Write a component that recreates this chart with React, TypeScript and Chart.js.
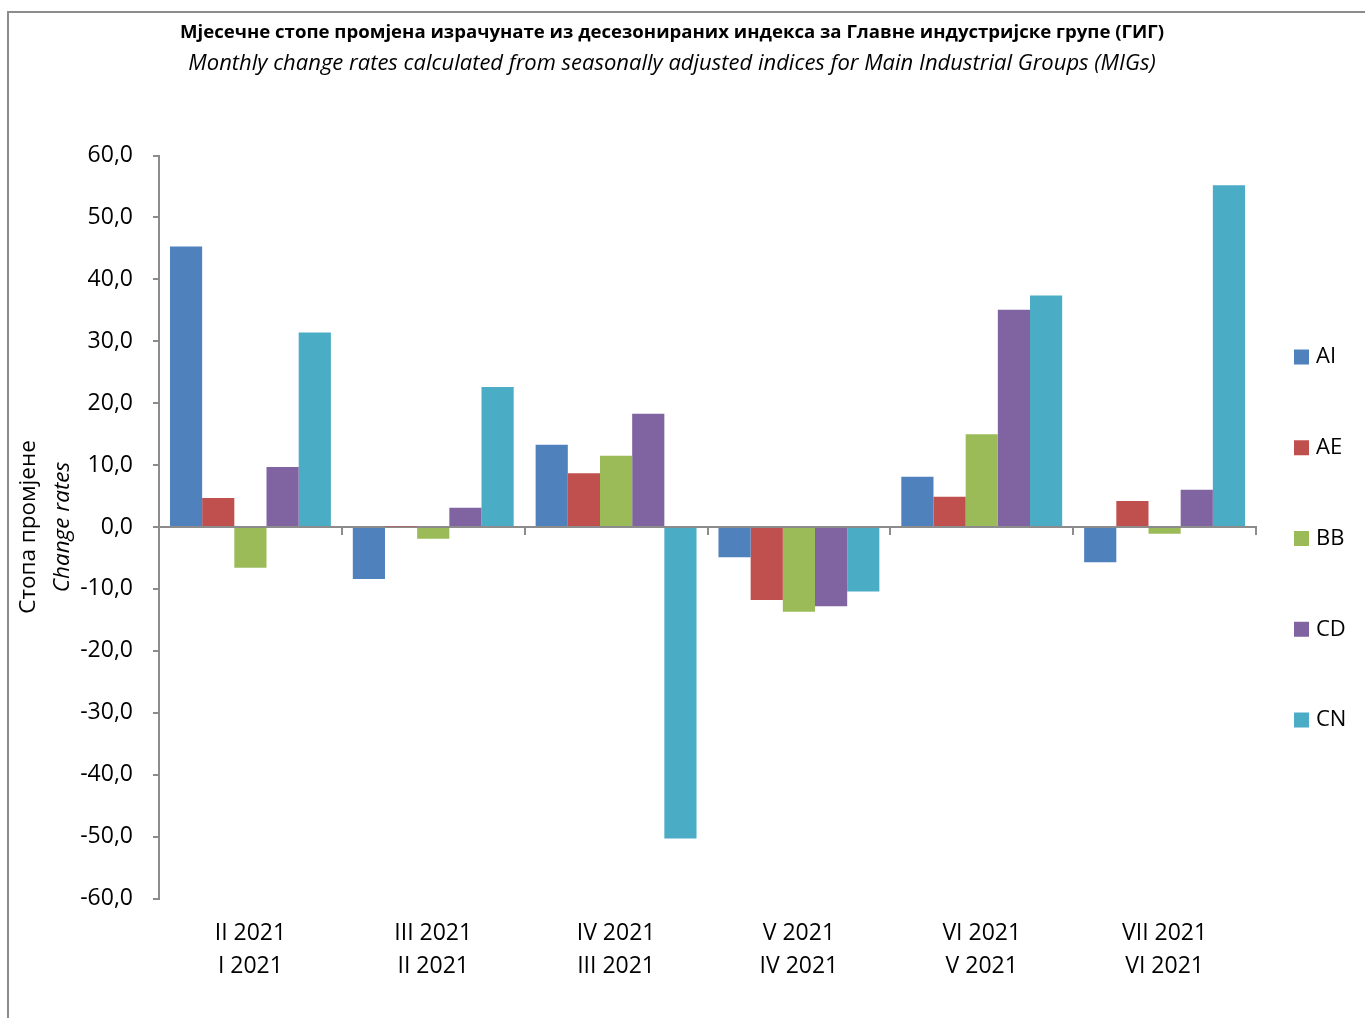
import { useEffect, useRef } from "react";
import { Chart, registerables } from "chart.js";

Chart.register(...registerables);

const categories: string[][] = [
  ["II 2021", "I 2021"],
  ["III 2021", "II 2021"],
  ["IV 2021", "III 2021"],
  ["V 2021", "IV 2021"],
  ["VI 2021", "V 2021"],
  ["VII 2021", "VI 2021"],
];
const seriesNames = ["AI", "AE", "BB", "CD", "CN"];
const seriesColors = ["#4F81BD", "#C0504D", "#9BBB59", "#8064A2", "#4BACC6"];
const aiValues = [45.3, -8.4, 13.3, -4.9, 8.1, -5.7];
const aeValues = [4.7, 0.1, 8.7, -11.8, 4.9, 4.2];
const bbValues = [-6.6, -1.9, 11.5, -13.7, 15.0, -1.1];
const cdValues = [9.7, 3.1, 18.3, -12.8, 35.1, 6.0];
const cnValues = [31.4, 22.6, -50.3, -10.4, 37.4, 55.2];
const yMin = -60;
const yMax = 60;
const yStep = 10;
const titleText =
  "Мјесечне стопе промјена израчунате из десезонираних индекса за Главне индустријске групе (ГИГ)";
const subtitleText =
  "Monthly change rates calculated from seasonally adjusted indices for Main Industrial Groups (MIGs)";
const yTitleLines = ["Стопа промјене", "Change rates"];

const GRAY = "#8c8c8c";
const FONT = "'Open Sans'";

const sideLegend = {
  id: "sideLegend",
  afterDraw(chart: any) {
    const { ctx, chartArea } = chart;
    const cy = (chartArea.top + chartArea.bottom) / 2 + 11.5;
    const n = chart.data.datasets.length;
    ctx.save();
    chart.data.datasets.forEach((ds: any, i: number) => {
      const y = cy + (i - (n - 1) / 2) * 90.75;
      ctx.fillStyle = ds.backgroundColor;
      ctx.fillRect(chartArea.right + 38, y - 7.5, 15, 15);
      ctx.fillStyle = "#000";
      ctx.font = `22px ${FONT}`;
      ctx.textAlign = "left";
      ctx.textBaseline = "middle";
      ctx.fillText(ds.label, chartArea.right + 60, y);
    });
    ctx.restore();
  },
};

const yTitle = {
  id: "yTitle",
  afterDraw(chart: any) {
    const { ctx, chartArea } = chart;
    const cy = (chartArea.top + chartArea.bottom) / 2;
    const xs = [28.5, 62.5];
    const styles = ["", "italic "];
    ctx.save();
    yTitleLines.forEach((t, i) => {
      ctx.save();
      ctx.translate(xs[i], cy);
      ctx.rotate(-Math.PI / 2);
      ctx.fillStyle = "#000";
      ctx.font = `${styles[i]}22.5px ${FONT}`;
      ctx.textAlign = "center";
      ctx.textBaseline = "middle";
      ctx.fillText(t, 0, 0);
      ctx.restore();
    });
    ctx.restore();
  },
};

// centre the title block over x = 672 (as in the reference)
const titleCentre = {
  id: "titleCentre",
  afterLayout(chart: any) {
    chart.boxes.forEach((b: any) => {
      if (b.position === "top" && b.fullSize) {
        b.left = 0;
        b.right = 1344;
        b.width = 1344;
      }
    });
  },
};

export default function App() {
  const ref = useRef<HTMLCanvasElement>(null);
  useEffect(() => {
    Chart.defaults.font.family = FONT;
    const valuesList = [aiValues, aeValues, bbValues, cdValues, cnValues];
    const chart = new Chart(ref.current!, {
      type: "bar",
      data: {
        labels: categories,
        datasets: seriesNames.map((name, i) => ({
          label: name,
          data: valuesList[i],
          backgroundColor: seriesColors[i],
          borderWidth: 0,
          barPercentage: 1,
          categoryPercentage: 0.88,
        })),
      },
      options: {
        animation: false,
        responsive: false,
        devicePixelRatio: 1,
        layout: { padding: { left: 0, right: 109, top: 0, bottom: 16.5 } },
        plugins: {
          legend: { display: false },
          tooltip: { enabled: false },
          title: {
            display: true,
            text: titleText,
            color: "#000",
            font: { family: FONT, size: 18.6, weight: "bold", lineHeight: 1.2 },
            padding: { top: 21.8, bottom: 0 },
          },
          subtitle: {
            display: true,
            text: subtitleText,
            color: "#000",
            font: { family: FONT, size: 22, style: "italic", lineHeight: 1.2 },
            padding: { top: 6.6, bottom: 78.4 },
          },
        },
        scales: {
          x: {
            type: "category",
            position: "bottom",
            offset: true,
            grid: { display: false, drawTicks: false },
            border: { display: false },
            ticks: {
              color: "#000",
              font: { family: FONT, size: 23, lineHeight: "33px" },
              padding: 18.5,
              maxRotation: 0,
              autoSkip: false,
            },
          },
          x0: {
            type: "category",
            position: { y: 0 },
            offset: true,
            grid: {
              display: true,
              offset: true,
              drawOnChartArea: false,
              drawTicks: true,
              tickLength: 7,
              color: GRAY,
              lineWidth: 2,
            },
            border: { display: true, color: GRAY, width: 2 },
            ticks: { display: false },
          },
          y: {
            type: "linear",
            position: "left",
            min: yMin,
            max: yMax,
            ticks: {
              stepSize: yStep,
              color: "#000",
              font: { family: FONT, size: 23 },
              padding: 20,
              callback: (v: any) => Number(v).toFixed(1).replace(".", ","),
            },
            grid: {
              drawOnChartArea: false,
              drawTicks: true,
              tickLength: 6,
              color: GRAY,
              lineWidth: 2,
            },
            border: { display: true, color: GRAY, width: 2 },
            afterFit: (s: any) => {
              s.width = 159;
            },
          },
        },
      },
      plugins: [sideLegend, yTitle, titleCentre],
    } as any);
    return () => chart.destroy();
  }, []);

  return (
    <div
      style={{
        position: "fixed",
        left: 0,
        top: 0,
        width: 1365,
        height: 1018,
        overflow: "hidden",
        background: "#fff",
      }}
    >
      <div
        style={{
          position: "absolute",
          left: 7,
          top: 11,
          width: 1400,
          height: 1100,
          border: `2px solid ${GRAY}`,
        }}
      />
      <canvas
        ref={ref}
        width={1365}
        height={1018}
        style={{ position: "absolute", left: 0, top: 0 }}
      />
    </div>
  );
}
